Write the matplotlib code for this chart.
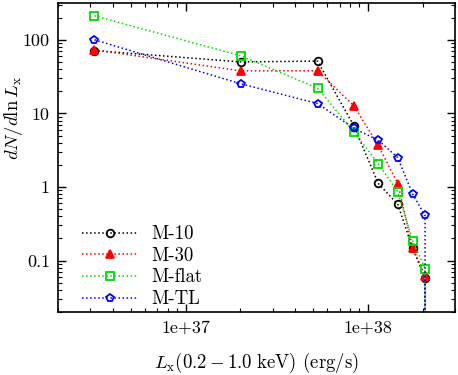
import matplotlib
matplotlib.use("Agg")
import matplotlib.pyplot as plt
import numpy as np
from matplotlib.ticker import FixedLocator, FixedFormatter, LogLocator, NullFormatter

plt.rcParams["font.family"] = ["cmr10", "DejaVu Serif"]
plt.rcParams["mathtext.fontset"] = "cm"
plt.rcParams["axes.formatter.use_mathtext"] = True

# --- Data ----------------------------------------------------------------
lx = [3.16e36, 2.01e37, 5.3e37, 8.4e37, 1.14e38, 1.46e38, 1.76e38, 2.06e38, 2.06e38]

m10 = [71.4, 50.0, 51.3, 6.7, 1.12, 0.58, 0.147, 0.058, 1e-3]
m30 = [73.0, 37.8, 37.9, 12.6, 3.67, 1.11, 0.15, 0.062, 1e-3]
mflat = [212.0, 60.5, 22.0, 5.6, 2.07, 0.86, 0.187, 0.078, 1e-3]
mtl = [100.0, 25.2, 13.6, 6.25, 4.33, 2.5, 0.80, 0.41, 1e-3]

labels = ["M-10", "M-30", "M-flat", "M-TL"]
series = [m10, m30, mflat, mtl]
colors = ["black", "red", "#00dd00", "blue"]
markers = ["o", "^", "s", "p"]
filled = [False, True, False, False]

xticks = [1e37, 1e38]
xticklabels = ["1e+37", "1e+38"]
yticks = [0.1, 1, 10, 100]
yticklabels = ["0.1", "1", "10", "100"]

# --- Plot ----------------------------------------------------------------
fig = plt.figure(figsize=(4.58, 3.75), dpi=100)
ax = fig.add_axes([0.127, 0.168, 0.866, 0.824])

for y, lab, c, m, f in zip(series, labels, colors, markers, filled):
    ax.plot(lx, y, linestyle=":", color=c, marker=m, markersize=5.5,
            markerfacecolor=c if f else "none", markeredgecolor=c,
            markeredgewidth=1.3, linewidth=1.1, label=lab)

ax.set_xscale("log")
ax.set_yscale("log")
ax.set_xlim(2e36, 3e38)
ax.set_ylim(0.02, 316)

ax.xaxis.set_major_locator(FixedLocator(xticks))
ax.xaxis.set_major_formatter(FixedFormatter(xticklabels))
ax.xaxis.set_minor_locator(LogLocator(base=10, subs=np.arange(2, 10)))
ax.xaxis.set_minor_formatter(NullFormatter())
ax.yaxis.set_major_locator(FixedLocator(yticks))
ax.yaxis.set_major_formatter(FixedFormatter(yticklabels))
ax.yaxis.set_minor_locator(LogLocator(base=10, subs=np.arange(2, 10)))
ax.yaxis.set_minor_formatter(NullFormatter())

ax.tick_params(which="both", direction="in", top=True, right=True, labelsize=13)
ax.tick_params(which="major", length=6, width=1, pad=6)
ax.tick_params(which="minor", length=3, width=0.8)
for s in ax.spines.values():
    s.set_linewidth(1.2)

ax.set_xlabel(r"$L_{\rm x}(0.2-1.0\ {\rm keV})$ (erg/s)", fontsize=13.5, labelpad=11)
ax.set_ylabel(r"$dN/d\ln L_{\rm x}$", fontsize=13.5)
ax.yaxis.set_label_coords(-0.084, 0.628)

ax.legend(loc="lower left", frameon=False, fontsize=13.5, handlelength=2.95,
          handletextpad=0.75, labelspacing=0.2, borderaxespad=0.3,
          bbox_to_anchor=(0.028, -0.03))

fig.savefig("out.png", dpi=100)
